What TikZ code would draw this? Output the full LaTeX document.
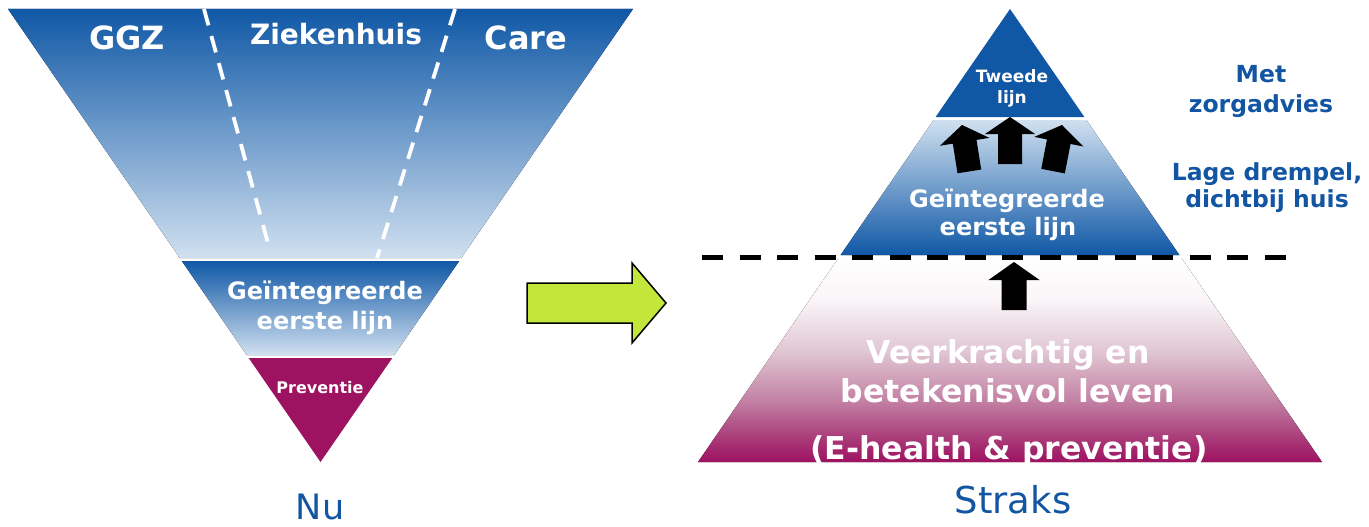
\documentclass[tikz,border=0pt]{standalone}
\usepackage{fontspec}
\setmainfont{DejaVu Sans}
\definecolor{dblue}{RGB}{16,88,166}
\definecolor{lblue}{RGB}{208,224,240}
\definecolor{magen}{RGB}{158,18,98}
\definecolor{mA}{RGB}{168,55,118}
\definecolor{mB}{RGB}{195,130,165}
\definecolor{mC}{RGB}{225,200,212}
\definecolor{mD}{RGB}{250,245,248}
\definecolor{lgreen}{RGB}{194,230,58}
\definecolor{tblue}{RGB}{18,86,163}
\pgfdeclareverticalshading{pinkgrad}{100bp}{color(0bp)=(magen); color(25bp)=(magen); color(30.4bp)=(mA); color(40.2bp)=(mB); color(52.5bp)=(mC); color(64.7bp)=(mD); color(75bp)=(white); color(100bp)=(white)}
\tikzset{
  wb/.style={text=white,font=\bfseries,inner sep=0pt,anchor=base},
  bb/.style={text=tblue,font=\bfseries,inner sep=0pt,anchor=base},
  bl/.style={text=tblue,inner sep=0pt,anchor=base},
  blockarrow/.style={fill=black},
  sepdash/.style={white,line width=3.8pt,dash pattern=on 17pt off 11pt},
}
\newcommand{\fs}[2]{\fontsize{#1}{#2}\selectfont}
\begin{document}
\begin{tikzpicture}[x=1pt,y=-1pt]
\useasboundingbox (0,0) rectangle (1369,527);
% ---------- left funnel ----------
\fill[top color=dblue,bottom color=lblue] (8,9) -- (633,9) -- (461.2,258) -- (179.8,258) -- cycle;
\fill[top color=dblue,bottom color=lblue] (181.8,261) -- (459.2,261) -- (394.3,355) -- (246.7,355) -- cycle;
\fill[magen] (248.7,358) -- (392.3,358) -- (320.5,462) -- cycle;
\coordinate (dl1) at (204,9); \coordinate (dl2) at (269,247);
\coordinate (dr1) at (455,9); \coordinate (dr2) at (377,258);
\draw[sepdash] (dl1) -- (dl2);
\draw[sepdash] (dr1) -- (dr2);
\node[wb] (ggz) at (127,50) {\fs{32}{38}GGZ};
\node[wb] (zh) at (336,45) {\fs{28}{34}Ziekenhuis};
\node[wb] (care) at (526,50) {\fs{32}{38}Care};
\node[wb] (lg1) at (325,299) {\fs{24}{30}Geïntegreerde};
\node[wb] (lg2) at (325,329) {\fs{24}{30}eerste lijn};
\node[wb] (prev) at (320,393) {\fs{16}{20}Preventie};
\node[bl] (nu) at (320,519) {\fs{35}{40}Nu};
% ---------- green arrow ----------
\draw[fill=lgreen,line width=1.5pt,line join=miter] (527,283) -- (632,283) -- (632,263) -- (666,303) -- (632,343) -- (632,323) -- (527,323) -- cycle;
% ---------- right pyramid ----------
\fill[dblue] (1010,9) -- (1084.4,117) -- (935.6,117) -- cycle;
\fill[top color=lblue,bottom color=dblue] (933.6,120) -- (1086.4,120) -- (1179.4,255) -- (840.6,255) -- cycle;
\fill[shading=pinkgrad] (838.5,258) -- (1181.5,258) -- (1322,462) -- (698,462) -- cycle;
\coordinate (hl1) at (702,257); \coordinate (hl2) at (1287,257);
\draw[black,line width=5pt,dash pattern=on 21pt off 16.5pt] (hl1) -- (hl2);
% block arrows
\fill[blockarrow,shift={(1010,117)}] (0,0) -- (25,17) -- (12,17) -- (12,47) -- (-12,47) -- (-12,17) -- (-25,17) -- cycle;
\fill[blockarrow,shift={(962,125)},rotate=9] (0,0) -- (25,17) -- (12,17) -- (12,47) -- (-12,47) -- (-12,17) -- (-25,17) -- cycle;
\fill[blockarrow,shift={(1062,125)},rotate=-11] (0,0) -- (25,17) -- (12,17) -- (12,47) -- (-12,47) -- (-12,17) -- (-25,17) -- cycle;
\fill[blockarrow,shift={(1014,262)}] (0,0) -- (25.5,18) -- (12.5,18) -- (12.5,48) -- (-12.5,48) -- (-12.5,18) -- (-25.5,18) -- cycle;
% texts
\node[wb] (tw1) at (1012,83) {\fs{17}{20}Tweede};
\node[wb] (tw2) at (1012,103) {\fs{17}{20}lijn};
\node[wb] (rg1) at (1007,207) {\fs{24}{30}Geïntegreerde};
\node[wb] (rg2) at (1008,235) {\fs{24}{30}eerste lijn};
\node[bb] (met1) at (1261,83) {\fs{23.5}{28}Met};
\node[bb] (met2) at (1261,112) {\fs{23.5}{28}zorgadvies};
\node[bb] (lage1) at (1267,180) {\fs{23.5}{28}Lage drempel,};
\node[bb] (lage2) at (1267,207) {\fs{23.5}{28}dichtbij huis};
\node[wb] (vk1) at (1008,363) {\fs{31.5}{38}Veerkrachtig en};
\node[wb] (vk2) at (1008,402) {\fs{31.5}{38}betekenisvol leven};
\begin{scope}
\clip (0,0) rectangle (1369,462);
\node[wb] (eh) at (1009,459) {\fs{31.5}{38}(E-health \& preventie)};
\end{scope}
\node[bl] (straks) at (1013,513) {\fs{37}{44}Straks};
\end{tikzpicture}
\end{document}
